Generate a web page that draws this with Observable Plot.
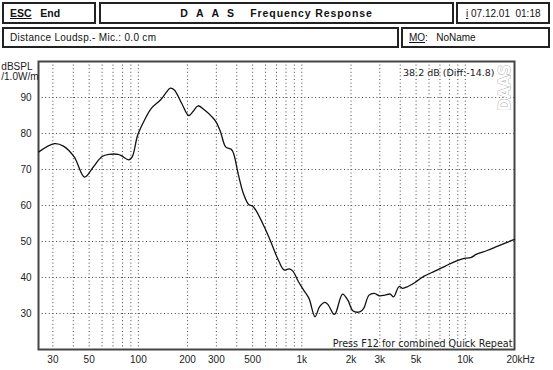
<!DOCTYPE html>
<html>
<head>
<meta charset="utf-8">
<script src="https://cdn.jsdelivr.net/npm/d3@7"></script>
<script src="https://cdn.jsdelivr.net/npm/@observablehq/plot@0.6"></script>
<style>
  body { margin: 0; background: #fff; width: 553px; height: 370px; overflow: hidden; font-family: "Liberation Sans", Arial, sans-serif; }
  #header { position: relative; width: 553px; height: 50px; }
  .box { position: absolute; border: 2px solid #222; box-sizing: border-box; font-size: 10px; color: #111; display: flex; align-items: center; white-space: pre; }
  #chart { position: absolute; top: 50px; left: 0; }
</style>
</head>
<body>
<div id="header">
  <div class="box" style="left:2px;top:2px;width:94px;height:22px;padding-left:6px;font-weight:bold;font-size:10.5px;"><span style="text-decoration:underline">ESC</span>   End</div>
  <div class="box" style="left:99px;top:2px;width:355px;height:22px;justify-content:center;font-weight:bold;font-size:10.5px;letter-spacing:0.9px;">D  A  A  S    Frequency Response</div>
  <div class="box" style="left:456px;top:2px;width:94px;height:22px;padding-left:8px;font-size:10px;"><span style="text-decoration:underline">i</span> 07.12.01  01:18</div>
  <div class="box" style="left:2px;top:27px;width:397px;height:21px;padding-left:6px;font-size:10px;letter-spacing:0.3px;">Distance Loudsp.- Mic.: 0.0 cm</div>
  <div class="box" style="left:401px;top:27px;width:149px;height:21px;padding-left:6px;font-size:10px;"><span style="text-decoration:underline">MO</span>:   NoName</div>
</div>
<div id="chart"></div>
<script>
// Frequency response readings (Hz, dB SPL)
const freq = [24.6, 30.7, 34.8, 40.5, 46.9, 53, 60, 66.5, 75.1, 79, 87.3, 91.7, 99, 109, 120, 136.5, 147, 157, 166, 184, 203, 216, 232, 254, 281, 298, 318, 342, 370, 383, 408, 440, 474, 498, 523, 593, 656, 724, 780, 841, 884, 952, 1026, 1106, 1204, 1285, 1384, 1450, 1568, 1606, 1775, 1912, 2060, 2278, 2390, 2577, 2777, 2991, 3223, 3474, 3640, 3937, 4125, 4460, 4925, 5565, 6460, 7500, 8700, 9610, 10880, 11650, 13600, 15800, 18350, 20000];
const spl  = [74.9, 77.2, 76.5, 73.5, 67.9, 70.7, 73.6, 74.2, 74.2, 73.8, 72.7, 73.5, 79.5, 83.7, 87.0, 89.3, 91.2, 92.6, 92.1, 88.4, 85.0, 86.1, 87.7, 86.5, 84.7, 83.3, 80.5, 76.3, 75.6, 74.4, 68.8, 63.2, 60.2, 59.9, 58.7, 53.8, 49.2, 44.5, 42.1, 42.4, 41.7, 38.9, 36.5, 34.2, 29.1, 31.9, 33.1, 32.4, 29.8, 30.0, 35.4, 33.7, 30.7, 30.5, 31.4, 35.1, 35.6, 34.9, 35.1, 35.4, 34.6, 37.5, 37.0, 37.5, 38.6, 40.3, 41.7, 43.1, 44.5, 45.2, 45.6, 46.4, 47.5, 48.7, 49.9, 50.6];

// Axis ticks and labels
const xTicks = [30, 50, 100, 200, 300, 500, 1000, 2000, 3000, 5000, 10000, 20000];
const xTickLabels = ["30", "50", "100", "200", "300", "500", "1k", "2k", "3k", "5k", "10k", "20k"];
const yTicks = [30, 40, 50, 60, 70, 80, 90];
// Vertical grid positions (1-2-3...9 per decade)
const xGrid = [30, 40, 50, 60, 70, 80, 90, 100, 200, 300, 400, 500, 600, 700, 800, 900, 1000, 2000, 3000, 4000, 5000, 6000, 7000, 8000, 9000, 10000, 20000];

const data = freq.map((f, i) => ({f, db: spl[i]}));
const xLabelRows = xTicks.map((t, i) => ({t, label: xTickLabels[i]}));
const ann = "'DejaVu Sans', sans-serif";

const chart = Plot.plot({
  width: 553,
  height: 320,
  marginTop: 11,
  marginBottom: 21,
  marginLeft: 38,
  marginRight: 39,
  style: {fontFamily: "'Liberation Sans', Arial, sans-serif", fontSize: "10px", color: "#222", background: "#fff"},
  x: {type: "log", domain: [24.5, 20000], axis: null},
  y: {domain: [20, 100]},
  marks: [
    Plot.ruleX(xGrid, {stroke: "#444", strokeWidth: 1, strokeDasharray: "1,2.6", strokeOpacity: 1}),
    Plot.ruleY(yTicks, {stroke: "#444", strokeWidth: 1, strokeDasharray: "1,2.6", strokeOpacity: 1}),
    Plot.text(xLabelRows, {x: "t", text: "label", frameAnchor: "bottom", dy: 13, fill: "#222"}),
    Plot.axisY(yTicks, {tickSize: 0, tickPadding: 7, label: null}),
    Plot.text(["Hz"], {x: () => 20000, frameAnchor: "bottom", textAnchor: "start", dx: 8, dy: 13, fill: "#222"}),
    Plot.frame({stroke: "#444", strokeWidth: 2}),
    Plot.line(data, {x: "f", y: "db", stroke: "#111", strokeWidth: 1.3, curve: "catmull-rom"}),
    Plot.text(["dBSPL"], {x: () => 24.5, y: () => 100, textAnchor: "end", dx: -6, dy: 5, fill: "#222"}),
    Plot.text(["/1.0W/m"], {x: () => 24.5, y: () => 100, textAnchor: "end", dx: 0, dy: 15, fill: "#222"}),
    Plot.text(["38.2 dB (Diff:-14.8)"], {x: () => 20000, y: () => 100, textAnchor: "end", dx: -20, dy: 11, fill: "#222", fontFamily: ann, fontSize: 9.5}),
    Plot.text(["DAAS"], {x: () => 20000, y: () => 100, rotate: -90, textAnchor: "end", dx: -9, dy: 3, fill: "#fff", stroke: "#999", strokeWidth: 0.8, fontSize: 15, fontFamily: ann, fontWeight: "bold"}),
    Plot.text(["Press F12 for combined Quick Repeat"], {x: () => 20000, y: () => 20, textAnchor: "end", dx: -2, dy: -6, fill: "#222", fontFamily: ann, fontSize: 9.6})
  ]
});
document.getElementById("chart").appendChild(chart);
</script>
</body>
</html>
